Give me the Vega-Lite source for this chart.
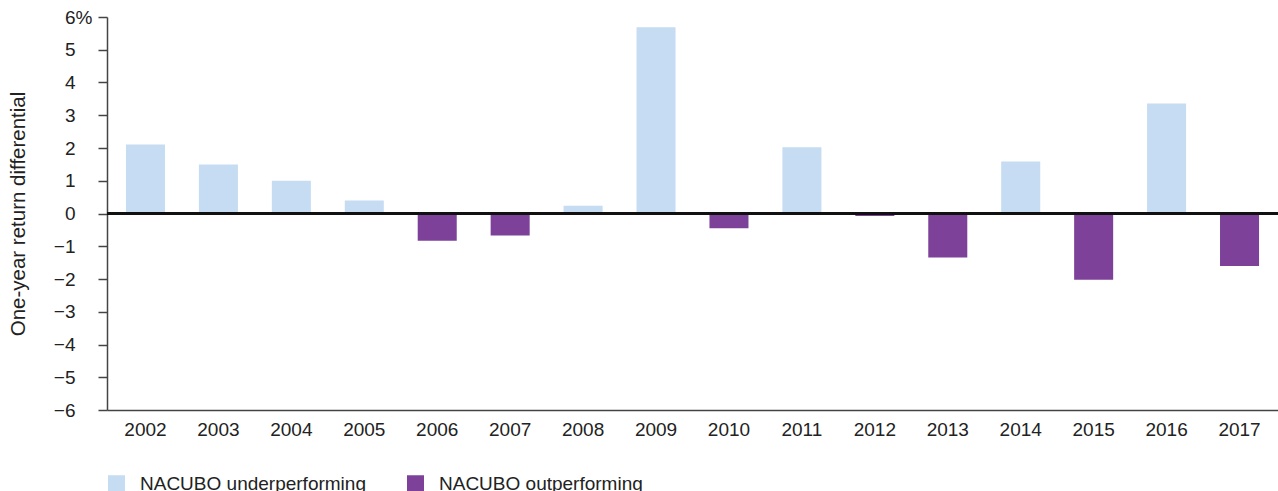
{
  "$schema": "https://vega.github.io/schema/vega-lite/v6.json",
  "autosize": "none",
  "width": 1171,
  "height": 393,
  "padding": {"left": 107, "top": 17, "right": 0, "bottom": 81},
  "background": "white",
  "config": {
    "font": "Liberation Sans",
    "view": {"stroke": null},
    "axis": {"labelFont": "Liberation Sans", "labelColor": "#222", "titleColor": "#222", "titleFont": "Liberation Sans", "titleFontWeight": "normal"}
  },
  "data": {
    "values": [
      {"year": "2002", "value": 2.11, "status": "NACUBO underperforming"},
      {"year": "2003", "value": 1.5, "status": "NACUBO underperforming"},
      {"year": "2004", "value": 1.0, "status": "NACUBO underperforming"},
      {"year": "2005", "value": 0.4, "status": "NACUBO underperforming"},
      {"year": "2006", "value": -0.83, "status": "NACUBO outperforming"},
      {"year": "2007", "value": -0.67, "status": "NACUBO outperforming"},
      {"year": "2008", "value": 0.24, "status": "NACUBO underperforming"},
      {"year": "2009", "value": 5.69, "status": "NACUBO underperforming"},
      {"year": "2010", "value": -0.45, "status": "NACUBO outperforming"},
      {"year": "2011", "value": 2.02, "status": "NACUBO underperforming"},
      {"year": "2012", "value": -0.08, "status": "NACUBO outperforming"},
      {"year": "2013", "value": -1.34, "status": "NACUBO outperforming"},
      {"year": "2014", "value": 1.59, "status": "NACUBO underperforming"},
      {"year": "2015", "value": -2.02, "status": "NACUBO outperforming"},
      {"year": "2016", "value": 3.36, "status": "NACUBO underperforming"},
      {"year": "2017", "value": -1.6, "status": "NACUBO outperforming"}
    ]
  },
  "layer": [
    {
      "mark": {"type": "bar"},
      "encoding": {
        "x": {
          "field": "year",
          "type": "ordinal",
          "scale": {"paddingInner": 0.465, "paddingOuter": 0.26},
          "axis": {
            "title": null,
            "labelAngle": 0,
            "labelFontSize": 19,
            "labelPadding": 10,
            "labelOverlap": false,
            "ticks": false,
            "domain": true,
            "domainColor": "#444",
            "domainWidth": 1.5
          }
        },
        "y": {
          "field": "value",
          "type": "quantitative",
          "scale": {"domain": [-6, 6], "nice": false, "zero": false},
          "axis": {
            "title": "One-year return differential",
            "titleFontSize": 20.5,
            "titlePadding": 25,
            "values": [-6, -5, -4, -3, -2, -1, 0, 1, 2, 3, 4, 5, 6],
            "labelExpr": "datum.value == 6 ? '6%' : datum.label",
            "labelFontSize": 19,
            "labelOverlap": false,
            "labelPadding": {"condition": {"test": "datum.value == 6", "value": 6}, "value": 23},
            "tickSize": 9,
            "tickColor": "#444",
            "tickWidth": 1.5,
            "domainColor": "#444",
            "domainWidth": 1.5,
            "grid": false
          }
        },
        "y2": {"datum": 0},
        "color": {
          "field": "status",
          "type": "nominal",
          "scale": {"domain": ["NACUBO underperforming", "NACUBO outperforming"], "range": ["#C5DCF2", "#7D4199"]},
          "legend": {
            "title": null,
            "orient": "none",
            "legendX": 0,
            "legendY": 457,
            "direction": "horizontal",
            "symbolType": "square",
            "symbolSize": 289,
            "symbolStrokeWidth": 0,
            "labelFontSize": 19,
            "labelLimit": 0,
            "labelColor": "#222",
            "labelFont": "Liberation Sans",
            "labelOffset": 14,
            "columnPadding": 40
          }
        }
      }
    },
    {
      "mark": {"type": "rule", "color": "#111", "strokeWidth": 1.5},
      "encoding": {
        "y": {
          "datum": 0,
          "type": "quantitative",
          "axis": {
            "title": "One-year return differential",
            "titleFontSize": 20.5,
            "titlePadding": 25,
            "values": [-6, -5, -4, -3, -2, -1, 0, 1, 2, 3, 4, 5, 6],
            "labelExpr": "datum.value == 6 ? '6%' : datum.label",
            "labelFontSize": 19,
            "labelOverlap": false,
            "labelPadding": {"condition": {"test": "datum.value == 6", "value": 6}, "value": 23},
            "tickSize": 9,
            "tickColor": "#444",
            "tickWidth": 1.5,
            "domainColor": "#444",
            "domainWidth": 1.5,
            "grid": false
          }
        }
      }
    }
  ]
}
